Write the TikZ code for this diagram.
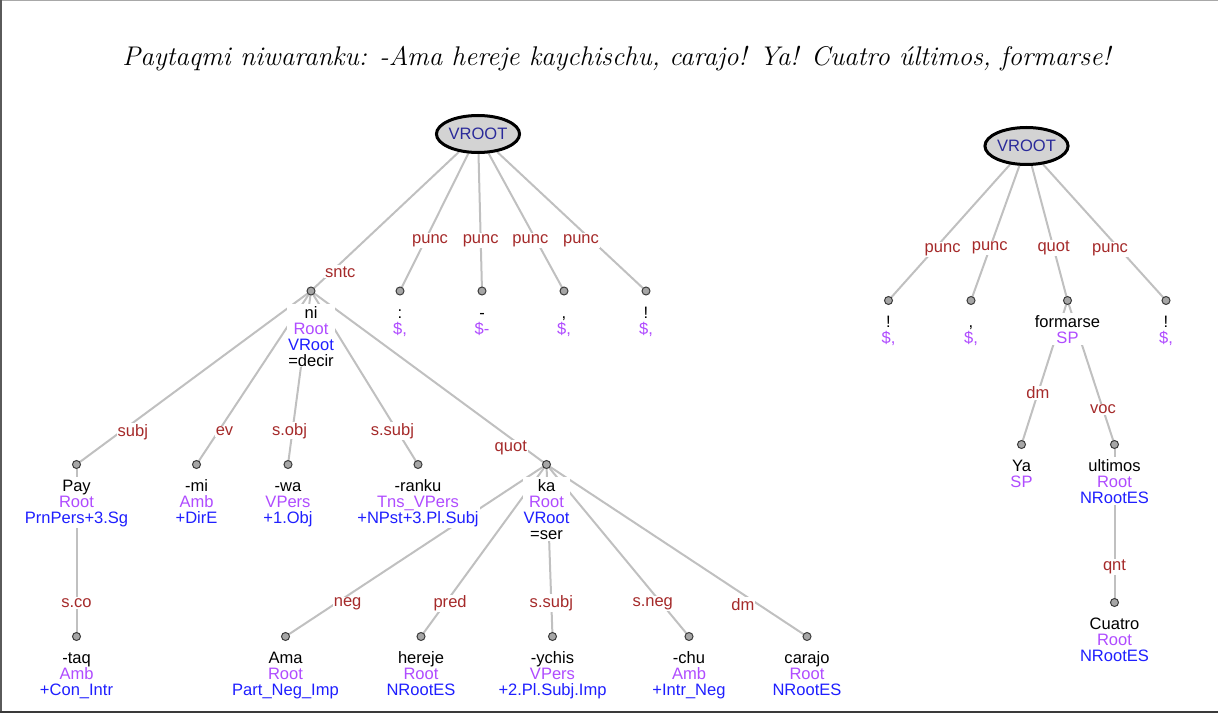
\documentclass[tikz,border=0pt]{standalone}
\usepackage{fontspec}
\setsansfont{Liberation Sans}
\usetikzlibrary{positioning,shapes.geometric}
\pgfdeclarelayer{background}
\pgfsetlayers{background,main}
\definecolor{relred}{HTML}{A52A2A}
\definecolor{tagpurple}{HTML}{B04CFF}
\definecolor{featblue}{HTML}{1F1FFF}
\definecolor{rootnavy}{HTML}{2A2A9A}
\definecolor{edgegray}{HTML}{C0C0C0}
\definecolor{dotgray}{HTML}{A6A6A6}
\definecolor{dotrim}{HTML}{3C3C3C}
\definecolor{rootfill}{HTML}{D3D3D3}
\definecolor{frametop}{HTML}{A8A8A8}
\definecolor{frameside}{HTML}{5A5A5A}
\definecolor{framebottom}{HTML}{3A3A3A}
\newcommand{\wordsize}{\fontsize{12.4}{12}\selectfont}
\newcommand{\wordstrut}{\rule{0pt}{10pt}}
\newcommand{\postag}[1]{\textcolor{tagpurple}{#1}}
\newcommand{\feat}[1]{\textcolor{featblue}{#1}}
\tikzset{
  vroot/.style={
    ellipse,
    draw=black,
    line width=2.25pt,
    fill=rootfill,
    minimum width=56pt,
    minimum height=27.75pt,
    inner sep=0pt,
    text=rootnavy,
    font=\sffamily\wordsize
  },
  tokdot/.style={
    circle,
    draw=dotrim,
    fill=dotgray,
    line width=0.75pt,
    minimum size=6pt,
    inner sep=0pt,
    outer sep=0pt
  },
  tokword/.style={
    font=\sffamily\wordsize,
    align=center,
    fill=white,
    inner sep=0.75pt,
    outer sep=0pt
  },
  rel/.style={
    font=\sffamily\wordsize,
    text=relred,
    fill=white,
    inner sep=0.75pt
  },
  dep/.style={
    draw=edgegray,
    line width=1.5pt
  },
  sentence/.style={
    font=\fontsize{20.25}{22}\selectfont\itshape,
    anchor=base
  }
}
\begin{document}
\begin{tikzpicture}[x=0.75pt, y=-0.75pt, node distance=6.5pt]
\useasboundingbox (0,0) rectangle (1218,713);

% frame
\draw[frametop, line width=0.75pt] (0,0.5) -- (1218,0.5);
\draw[frameside, line width=1.5pt] (1,0) -- (1,713);
\draw[framebottom, line width=1.5pt] (0,711.5) -- (1218,711.5);

\node[sentence] (title) at (616.5,65.7)
  {Paytaqmi niwaranku: -Ama hereje kaychischu, carajo! Ya! Cuatro últimos, formarse!};

% ---------------------------------------------------------------------------
% first sentence
% ---------------------------------------------------------------------------
\node[vroot] (root1) at (478,134) {VROOT};

\node[tokdot] (ni) at (311,291) {};
\node[tokdot] (colon) at (400,291) {};
\node[tokdot] (dash) at (482,291) {};
\node[tokdot] (comma1) at (564,291) {};
\node[tokdot] (excl1) at (646,291) {};

\node[tokdot] (pay) at (76.5,464.5) {};
\node[tokdot] (mi) at (196.5,464.5) {};
\node[tokdot] (wa) at (288,464.5) {};
\node[tokdot] (ranku) at (418,464.5) {};
\node[tokdot] (ka) at (546.5,464.5) {};

\node[tokdot] (taq) at (76.5,636.5) {};
\node[tokdot] (ama) at (285.5,636.5) {};
\node[tokdot] (hereje) at (421,636.5) {};
\node[tokdot] (ychis) at (552.5,636.5) {};
\node[tokdot] (chu) at (689,636.5) {};
\node[tokdot] (carajo) at (807,636.5) {};

\node[tokword, below=of ni] (w-ni) {\wordstrut ni\\\postag{Root}\\\feat{VRoot}\\=decir};
\node[tokword, below=of colon] (w-colon) {\wordstrut :\\\postag{\$,}};
\node[tokword, below=of dash] (w-dash) {\wordstrut -\\\postag{\$-}};
\node[tokword, below=of comma1] (w-comma1) {\wordstrut ,\\\postag{\$,}};
\node[tokword, below=of excl1] (w-excl1) {\wordstrut !\\\postag{\$,}};

\node[tokword, below=of pay] (w-pay) {\wordstrut Pay\\\postag{Root}\\\feat{PrnPers+3.Sg}};
\node[tokword, below=of mi] (w-mi) {\wordstrut -mi\\\postag{Amb}\\\feat{+DirE}};
\node[tokword, below=of wa] (w-wa) {\wordstrut -wa\\\postag{VPers}\\\feat{+1.Obj}};
\node[tokword, below=of ranku] (w-ranku) {\wordstrut -ranku\\\postag{Tns\_VPers}\\\feat{+NPst+3.Pl.Subj}};
\node[tokword, below=of ka] (w-ka) {\wordstrut ka\\\postag{Root}\\\feat{VRoot}\\=ser};

\node[tokword, below=of taq] (w-taq) {\wordstrut -taq\\\postag{Amb}\\\feat{+Con\_Intr}};
\node[tokword, below=of ama] (w-ama) {\wordstrut Ama\\\postag{Root}\\\feat{Part\_Neg\_Imp}};
\node[tokword, below=of hereje] (w-hereje) {\wordstrut hereje\\\postag{Root}\\\feat{NRootES}};
\node[tokword, below=of ychis] (w-ychis) {\wordstrut -ychis\\\postag{VPers}\\\feat{+2.Pl.Subj.Imp}};
\node[tokword, below=of chu] (w-chu) {\wordstrut -chu\\\postag{Amb}\\\feat{+Intr\_Neg}};
\node[tokword, below=of carajo] (w-carajo) {\wordstrut carajo\\\postag{Root}\\\feat{NRootES}};

% ---------------------------------------------------------------------------
% second sentence
% ---------------------------------------------------------------------------
\node[vroot] (root2) at (1026.5,146) {VROOT};

\node[tokdot] (excl2) at (888.5,300.5) {};
\node[tokdot] (comma2) at (971,300.5) {};
\node[tokdot] (formarse) at (1067.5,300.5) {};
\node[tokdot] (excl3) at (1166,300.5) {};
\node[tokdot] (ya) at (1021.5,444.5) {};
\node[tokdot] (ultimos) at (1114.5,444.5) {};
\node[tokdot] (cuatro) at (1114.5,602.5) {};

\node[tokword, below=of excl2] (w-excl2) {\wordstrut !\\\postag{\$,}};
\node[tokword, below=of comma2] (w-comma2) {\wordstrut ,\\\postag{\$,}};
\node[tokword, below=of formarse] (w-formarse) {\wordstrut formarse\\\postag{SP}};
\node[tokword, below=of excl3] (w-excl3) {\wordstrut !\\\postag{\$,}};
\node[tokword, below=of ya] (w-ya) {\wordstrut Ya\\\postag{SP}};
\node[tokword, below=of ultimos] (w-ultimos) {\wordstrut ultimos\\\postag{Root}\\\feat{NRootES}};
\node[tokword, below=of cuatro] (w-cuatro) {\wordstrut Cuatro\\\postag{Root}\\\feat{NRootES}};

% dependency arcs go behind the words
\begin{pgfonlayer}{background}
\draw[dep] (root1) -- node[rel, pos=0.88, xshift=6.75pt] {sntc} (ni);
\draw[dep] (root1) -- node[rel, pos=0.65, xshift=3.75pt] {punc} (colon);
\draw[dep] (root1) -- node[rel, pos=0.65] {punc} (dash);
\draw[dep] (root1) -- node[rel, pos=0.65, xshift=-4.5pt] {punc} (comma1);
\draw[dep] (root1) -- node[rel, pos=0.65, xshift=-8.25pt] {punc} (excl1);

\draw[dep] (ni) -- node[rel, pos=0.82, xshift=9pt] {subj} (pay);
\draw[dep] (ni) -- node[rel, pos=0.82, xshift=4.5pt] {ev} (mi);
\draw[dep] (ni) -- node[rel, pos=0.82, xshift=-2.25pt] {s.obj} (wa);
\draw[dep] (ni) -- node[rel, pos=0.82, xshift=-3.75pt] {s.subj} (ranku);
\draw[dep] (ni) -- node[rel, pos=0.915, xshift=-9.75pt] {quot} (ka);

\draw[dep] (pay) -- node[rel, pos=0.82] {s.co} (taq);
\draw[dep] (ka) -- node[rel, pos=0.82, xshift=9.75pt] {neg} (ama);
\draw[dep] (ka) -- node[rel, pos=0.82, xshift=3.75pt] {pred} (hereje);
\draw[dep] (ka) -- node[rel, pos=0.82] {s.subj} (ychis);
\draw[dep] (ka) -- node[rel, pos=0.82, xshift=-6.75pt] {s.neg} (chu);
\draw[dep] (ka) -- node[rel, pos=0.82, xshift=-11.25pt] {dm} (carajo);

\draw[dep] (root2) -- node[rel, pos=0.64, xshift=6.5pt] {punc} (excl2);
\draw[dep] (root2) -- node[rel, pos=0.63] {punc} (comma2);
\draw[dep] (root2) -- node[rel, pos=0.63] {quot} (formarse);
\draw[dep] (root2) -- node[rel, pos=0.64, xshift=-7.5pt] {punc} (excl3);
\draw[dep] (formarse) -- node[rel, pos=0.65] {dm} (ya);
\draw[dep] (formarse) -- node[rel, pos=0.77] {voc} (ultimos);
\draw[dep] (ultimos) -- node[rel, pos=0.79] {qnt} (cuatro);
\end{pgfonlayer}

\end{tikzpicture}
\end{document}
